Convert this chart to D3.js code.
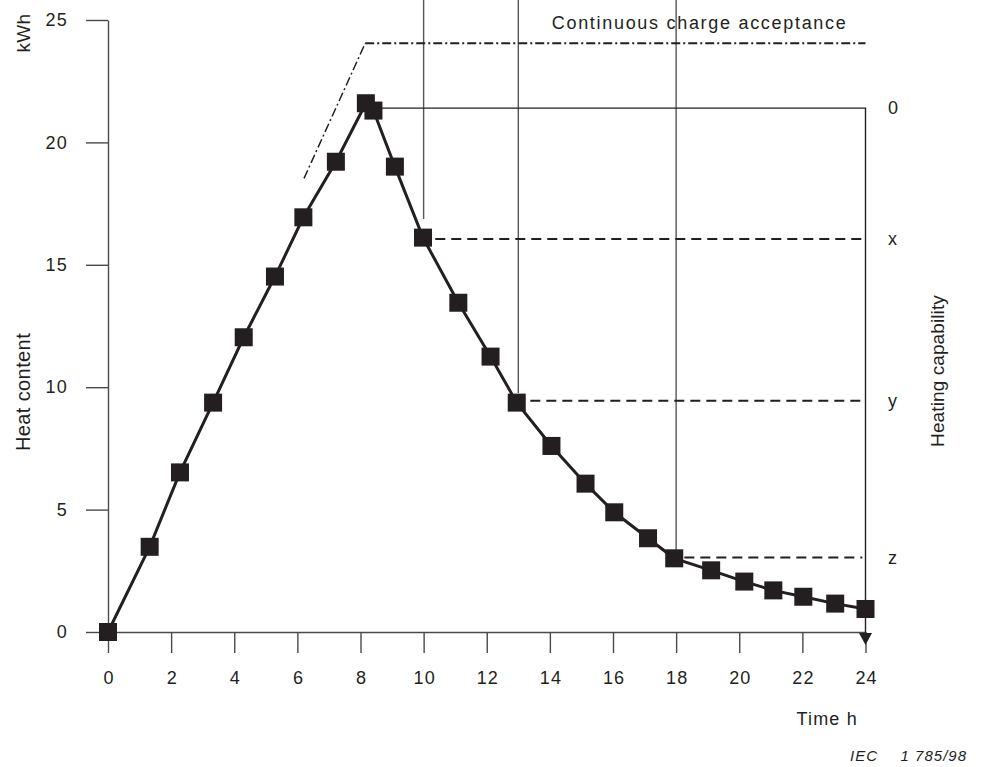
<!DOCTYPE html>
<html>
<head>
<meta charset="utf-8">
<script src="https://cdn.jsdelivr.net/npm/d3@7"></script>
<style>
  html, body { margin: 0; padding: 0; background: #fff; }
  svg text { font-family: "Liberation Sans", Arial, sans-serif; fill: #231f20; }
</style>
</head>
<body>
<svg id="chart" width="981" height="767"></svg>
<script>
// ---- data ----
const timeH = [0, 1.32, 2.28, 3.33, 4.30, 5.29, 6.19, 7.22, 8.17, 8.41, 9.09, 9.98, 11.10, 12.12, 12.95, 14.05, 15.13, 16.04, 17.11, 17.94, 19.11, 20.16, 21.08, 22.03, 23.04, 24.0];
const heatKWh = [0, 3.48, 6.52, 9.37, 12.04, 14.52, 16.94, 19.21, 21.60, 21.30, 19.01, 16.11, 13.45, 11.25, 9.37, 7.60, 6.06, 4.89, 3.83, 3.01, 2.52, 2.06, 1.70, 1.44, 1.16, 0.94];

const xTicks = [0, 2, 4, 6, 8, 10, 12, 14, 16, 18, 20, 22, 24];
const yTicks = [0, 5, 10, 15, 20, 25];

// continuous charge acceptance (dash-dot)
const chargeX = [6.21, 8.15, 24];
const chargeY = [18.53, 24.05, 24.05];
const chargeLabel = "Continuous charge acceptance";

// heating capability levels
const peakLevel = 21.40;          // level "0"
const peakStartX = 8.41;
const levelTimes = [10, 13, 18];  // vertical lines
const levelLineEnds = [16.87, 9.76, 3.35];
const levelValues = [16.05, 9.45, 3.04];
const levelDashStart = [10.37, 13.38, 18.26];
const levelDashEnd = 23.9;
const levelLabels = ["x", "y", "z"];
const peakLabel = "0";

// ---- layout ----
const svg = d3.select("#chart");
const x = d3.scaleLinear().domain([0, 24]).range([108, 865.5]);
const y = d3.scaleLinear().domain([0, 25]).range([632, 20]);
const ink = "#231f20";
const axisCol = "#4a4a4a";
const fs = 18;

// axes
const gx = svg.append("g").attr("transform", `translate(0,${y(0)})`)
  .call(d3.axisBottom(x).tickValues(xTicks).tickSize(21).tickSizeOuter(0).tickPadding(18));
const gy = svg.append("g").attr("transform", `translate(${x(0)},0)`)
  .call(d3.axisLeft(y).tickValues(yTicks).tickSize(22).tickSizeOuter(0).tickPadding(18));
[gx, gy].forEach(g => {
  g.select(".domain").attr("stroke", axisCol).attr("stroke-width", 1.4);
  g.selectAll(".tick line").attr("stroke", axisCol).attr("stroke-width", 1.4);
  g.selectAll(".tick text").attr("font-size", fs).attr("fill", ink)
    .attr("font-family", "Liberation Sans, Arial, sans-serif").attr("letter-spacing", "1.2px");
});
gx.selectAll(".tick text").attr("dx", "0.6px");

// reference vertical lines (thin solid)
levelTimes.forEach((t, i) => {
  svg.append("line")
    .attr("x1", x(t)).attr("x2", x(t))
    .attr("y1", 0).attr("y2", y(levelLineEnds[i]))
    .attr("stroke", "#555").attr("stroke-width", 1.4);
});

// peak level horizontal + right vertical with arrow
svg.append("path")
  .attr("d", `M${x(peakStartX)},${y(peakLevel)} H${x(24)} V${y(0) + 3}`)
  .attr("fill", "none").attr("stroke", ink).attr("stroke-width", 1.4);
svg.append("path")
  .attr("d", `M${x(24) - 6.5},${y(0) + 1} L${x(24) + 6.5},${y(0) + 1} L${x(24)},${y(0) + 13} Z`)
  .attr("fill", ink);

// dashed level lines
levelValues.forEach((v, i) => {
  svg.append("line")
    .attr("x1", x(levelDashStart[i])).attr("x2", x(levelDashEnd))
    .attr("y1", y(v)).attr("y2", y(v))
    .attr("stroke", ink).attr("stroke-width", 2).attr("stroke-dasharray", "10,6");
});

// dash-dot continuous charge acceptance
const charge = chargeX.map((d, i) => [d, chargeY[i]]);
svg.append("path")
  .attr("d", d3.line().x(d => x(d[0])).y(d => y(d[1]))(charge.slice(0, 2)))
  .attr("fill", "none").attr("stroke", ink).attr("stroke-width", 1.5).attr("stroke-dasharray", "9,3,2,3");
svg.append("path")
  .attr("d", d3.line().x(d => x(d[0])).y(d => y(d[1]))(charge.slice(1)))
  .attr("fill", "none").attr("stroke", ink).attr("stroke-width", 2).attr("stroke-dasharray", "9,3,2,3");
svg.append("text").attr("x", x(24) - 18).attr("y", y(24.05) - 14)
  .attr("text-anchor", "end").attr("font-size", fs).attr("letter-spacing", "1.7px")
  .text(chargeLabel);

// main series
const pts = timeH.map((t, i) => [t, heatKWh[i]]);
svg.append("path")
  .attr("d", d3.line().x(d => x(d[0])).y(d => y(d[1]))(pts))
  .attr("fill", "none").attr("stroke", ink).attr("stroke-width", 3);
svg.append("g").selectAll("rect").data(pts).join("rect")
  .attr("x", d => x(d[0]) - 9).attr("y", d => y(d[1]) - 9)
  .attr("width", 18).attr("height", 18).attr("fill", ink);

// right-hand level labels
svg.append("text").attr("x", 888).attr("y", y(peakLevel) + 6)
  .attr("font-size", fs).text(peakLabel);
levelValues.forEach((v, i) => {
  svg.append("text").attr("x", 888).attr("y", y(v) + 6)
    .attr("font-size", fs).text(levelLabels[i]);
});

// axis titles
svg.append("text").attr("transform", "translate(29.5,33) rotate(-90)")
  .attr("text-anchor", "middle").attr("font-size", 19).attr("letter-spacing", "0.3px").text("kWh");
svg.append("text").attr("transform", "translate(29.5,392) rotate(-90)")
  .attr("text-anchor", "middle").attr("font-size", 20).attr("letter-spacing", "0.4px").text("Heat content");
svg.append("text").attr("transform", "translate(944,371) rotate(-90)")
  .attr("text-anchor", "middle").attr("font-size", 19).attr("letter-spacing", "0.1px").text("Heating capability");
svg.append("text").attr("x", 858).attr("y", 725)
  .attr("text-anchor", "end").attr("font-size", fs).attr("letter-spacing", "1.2px").text("Time h");

// reference code
svg.append("text").attr("x", 850).attr("y", 761)
  .attr("font-size", 15).attr("font-style", "italic").attr("letter-spacing", "1px").text("IEC");
svg.append("text").attr("x", 967).attr("y", 761).attr("text-anchor", "end")
  .attr("font-size", 15).attr("font-style", "italic").attr("letter-spacing", "1px").text("1 785/98");
</script>
</body>
</html>
